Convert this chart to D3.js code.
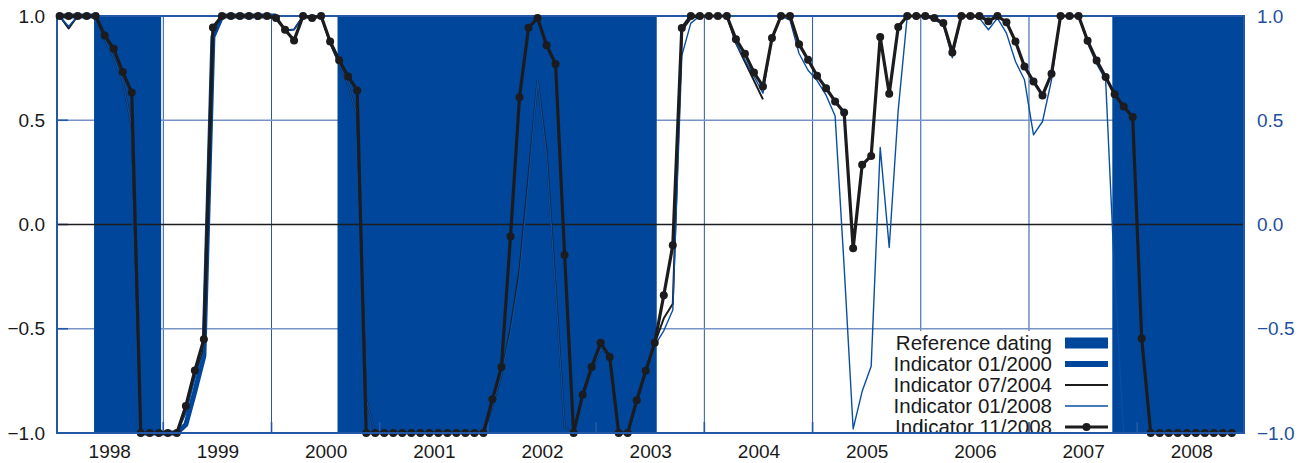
<!DOCTYPE html>
<html><head><meta charset="utf-8">
<script src="https://cdn.jsdelivr.net/npm/d3@7"></script>
<style>
body{margin:0;background:#fff}
text{font-family:"Liberation Sans",Arial,Helvetica,sans-serif}
</style>
</head><body>
<svg id="c" width="1305" height="463"></svg>
<script>
// ---------- data ----------
const startYear = 1998; // monthly observations, first = Jan 1998
const years = [1998,1999,2000,2001,2002,2003,2004,2005,2006,2007,2008];
const yTicks = [-1,-0.5,0,0.5,1];
// reference dating periods (decimal years)
const refStart = [1998.36, 2000.61, 2007.77];
const refEnd   = [1998.98, 2003.56, 2008.99];

const ind200001 = [1,1,1,1,1,0.9,0.82,0.7,0.5,-1,-1,-1,-1,-1,-0.96,-0.8,-0.63,0.9,1,1,1,1,1,1,1];

const ind200407 = [1,0.94,1,1,1,0.89,0.80,0.69,0.47,-1,-1,-1,-1,-1,-0.9,-0.72,-0.6,0.93,1,1,1,1,1,1,1,0.93,0.935,1,1,1,0.87,0.77,0.67,0.52,-0.84,
 -1,-1,-1,-1,-1,-1,-1,-1,-1,-1,-1,-1,-1,
 -0.87,-0.72,-0.5,-0.22,0.23,0.69,0.35,-0.3,-0.97,-1,-0.82,-0.7,-0.6,-0.62,-1,-1,-0.85,-0.71,-0.57,-0.45,-0.38,0.93,0.99,1,1,1,1,0.87,0.78,0.69,0.60];

const ind200801 = [1,0.95,1,1,1,0.89,0.80,0.69,0.47,-1,-1,-1,-1,-1,-0.9,-0.74,-0.61,0.92,1,1,1,1,1,1,1,0.93,0.935,1,1,1,0.87,0.77,0.67,0.52,-0.84,
 -1,-1,-1,-1,-1,-1,-1,-1,-1,-1,-1,-1,-1,
 -0.87,-0.72,-0.52,-0.25,0.2,0.69,0.33,-0.32,-0.97,-1,-0.82,-0.7,-0.6,-0.62,-1,-1,-0.85,-0.71,-0.58,
 -0.51,-0.41,0.81,0.966,1,1,1,1,0.87,0.79,0.71,0.63,0.89,1,0.98,0.82,0.74,0.69,0.62,0.52,-0.2,-0.98,-0.8,-0.68,0.37,-0.11,0.55,
 1,1,1,0.98,0.96,0.8,1,1,0.99,0.934,0.99,0.918,0.782,0.694,0.43,0.494,0.694,1,1,1,0.87,0.77,0.694,-0.25,-1,-1,-1];

const ind200811 = [1,1,1,1,1,0.907,0.843,0.731,0.633,-1,-1,-1,-1,-1,-0.87,-0.70,-0.55,0.945,1,1,1,1,1,1,0.99,0.934,0.883,1,0.99,1,0.878,0.788,0.71,0.643,-1,
 -1,-1,-1,-1,-1,-1,-1,-1,-1,-1,-1,-1,-1,
 -0.838,-0.683,-0.058,0.61,0.944,0.99,0.86,0.77,-0.146,-1,-0.816,-0.683,-0.567,-0.635,-1,-1,-0.843,-0.702,-0.567,-0.339,-0.10,
 0.942,1,1,1,1,1,0.889,0.819,0.729,0.662,0.894,1,1,0.865,0.79,0.713,0.654,0.59,0.537,-0.114,0.286,0.329,0.899,0.627,0.947,
 1,1,1,0.99,0.966,0.825,1,1,1,0.975,1,0.97,0.878,0.758,0.686,0.619,0.723,1,1,1,0.881,0.787,0.707,0.625,0.566,0.515,-0.547,
 -1,-1,-1,-1,-1,-1,-1,-1,-1,-1];

const legendLabels = ["Reference dating","Indicator 01/2000","Indicator 07/2004","Indicator 01/2008","Indicator 11/2008"];

// ---------- layout ----------
const L = 57, R = 1244, T = 16, B = 433;
const BLUE = "#00479b", GRID = "#2457a6", HGRID = "#7894c6", INK = "#1c1c1e", AXBLUE = "#1f4f9e";
const FS = 19, LFS = 20.5;

const svg = d3.select("#c");
const x = d3.scaleLinear().domain([1998.0176, 2008.987]).range([L, R]);
const y = d3.scaleLinear().domain([-1, 1]).range([B, T]);
const tOf = i => startYear + (i + 0.5) / 12;

// vertical gridlines (year boundaries)
svg.append("g").selectAll("line").data(years.slice(1)).join("line")
  .attr("x1", d => x(d)).attr("x2", d => x(d)).attr("y1", T).attr("y2", B)
  .attr("stroke", GRID).attr("stroke-width", 1);

// horizontal gridlines
svg.append("g").selectAll("line").data([-0.5, 0.5]).join("line")
  .attr("x1", L).attr("x2", R).attr("y1", d => y(d)).attr("y2", d => y(d))
  .attr("stroke", HGRID).attr("stroke-width", 1.6);

// legend box (white, under shading)
const lgX = 888, lgY = 331;
svg.append("rect").attr("x", lgX).attr("y", lgY).attr("width", x(refStart[2]) - lgX).attr("height", B - lgY).attr("fill", "#fff");

// reference dating shading
svg.append("g").selectAll("rect").data(refStart.map((s, k) => [s, refEnd[k]])).join("rect")
  .attr("x", d => x(d[0])).attr("width", d => Math.min(x(d[1]), R) - x(d[0]))
  .attr("y", T).attr("height", B - T).attr("fill", BLUE);

// ticks inside
svg.append("g").selectAll("line").data(yTicks).join("line")
  .attr("x1", L).attr("x2", L + 11).attr("y1", d => y(d)).attr("y2", d => y(d))
  .attr("stroke", GRID).attr("stroke-width", 1.6);
svg.append("g").selectAll("line").data(years.slice(1)).join("line")
  .attr("x1", d => x(d)).attr("x2", d => x(d)).attr("y1", B).attr("y2", B - 11)
  .attr("stroke", GRID).attr("stroke-width", 1.6);

// zero line
svg.append("line").attr("x1", L).attr("x2", R).attr("y1", y(0)).attr("y2", y(0))
  .attr("stroke", INK).attr("stroke-width", 1.6);

// frame
svg.append("path")
  .attr("d", `M${L},${B}V${T}H${R}V${B}H${L}Z`)
  .attr("fill", "none").attr("stroke", GRID).attr("stroke-width", 2);

// axes
const fmt = d3.format(".1f");
const axL = svg.append("g").attr("transform", `translate(${L},0)`)
  .call(d3.axisLeft(y).tickValues(yTicks).tickFormat(fmt).tickSize(0).tickPadding(12));
const axR = svg.append("g").attr("transform", `translate(${R},0)`)
  .call(d3.axisRight(y).tickValues(yTicks).tickFormat(fmt).tickSize(0).tickPadding(13));
const axB = svg.append("g").attr("transform", `translate(0,${B})`)
  .call(d3.axisBottom(x).tickValues(years.map(v => v + 0.5)).tickFormat(d => String(Math.floor(d))).tickSize(0).tickPadding(12));
[axL, axR, axB].forEach(a => { a.select(".domain").remove(); a.selectAll("text").attr("font-size", FS).attr("font-family", '"Liberation Sans",Arial,sans-serif'); });
axL.selectAll("text").attr("fill", "#1a1a1a");
axB.selectAll("text").attr("fill", "#1a1a1a");
axR.selectAll("text").attr("fill", AXBLUE);

// series
const line = d3.line().x((d, i) => x(tOf(i))).y(d => y(d));
svg.append("path").datum(ind200001).attr("d", line).attr("fill", "none")
  .attr("stroke", BLUE).attr("stroke-width", 5).attr("stroke-linejoin", "round");
svg.append("path").datum(ind200407).attr("d", line).attr("fill", "none")
  .attr("stroke", INK).attr("stroke-width", 2).attr("stroke-linejoin", "round");
svg.append("path").datum(ind200801).attr("d", line).attr("fill", "none")
  .attr("stroke", "#0a4ea3").attr("stroke-width", 1.4).attr("stroke-linejoin", "round");
svg.append("path").datum(ind200811).attr("d", line).attr("fill", "none")
  .attr("stroke", INK).attr("stroke-width", 3.2).attr("stroke-linejoin", "round");
svg.append("g").selectAll("circle").data(ind200811).join("circle")
  .attr("cx", (d, i) => x(tOf(i))).attr("cy", d => y(d)).attr("r", 4).attr("fill", INK);

// legend (clipped to plot area)
svg.append("clipPath").attr("id", "pc").append("rect").attr("x", L).attr("y", T).attr("width", R - L).attr("height", B - T - 1);
const lg = svg.append("g").attr("clip-path", "url(#pc)");
const rowY = k => 343 + k * 21;
lg.selectAll("text").data(legendLabels).join("text")
  .attr("x", 1052).attr("y", (d, k) => rowY(k)).attr("dy", "0.35em")
  .attr("text-anchor", "end").attr("font-size", LFS).attr("fill", "#1a1a1a").text(d => d);
const sx0 = 1065, sx1 = 1108;
lg.append("rect").attr("x", sx0).attr("y", rowY(0) - 5.5).attr("width", sx1 - sx0).attr("height", 11).attr("fill", BLUE);
lg.append("line").attr("x1", sx0).attr("x2", sx1).attr("y1", rowY(1)).attr("y2", rowY(1)).attr("stroke", BLUE).attr("stroke-width", 6);
lg.append("line").attr("x1", sx0).attr("x2", sx1).attr("y1", rowY(2)).attr("y2", rowY(2)).attr("stroke", INK).attr("stroke-width", 2);
lg.append("line").attr("x1", sx0).attr("x2", sx1).attr("y1", rowY(3)).attr("y2", rowY(3)).attr("stroke", "#0a4ea3").attr("stroke-width", 1.4);
lg.append("line").attr("x1", sx0).attr("x2", sx1).attr("y1", rowY(4)).attr("y2", rowY(4)).attr("stroke", INK).attr("stroke-width", 3.2);
lg.append("circle").attr("cx", (sx0 + sx1) / 2).attr("cy", rowY(4)).attr("r", 4).attr("fill", INK);
// bottom frame line over legend
svg.append("line").attr("x1", L).attr("x2", R).attr("y1", B).attr("y2", B).attr("stroke", GRID).attr("stroke-width", 2);
</script>
</body></html>
